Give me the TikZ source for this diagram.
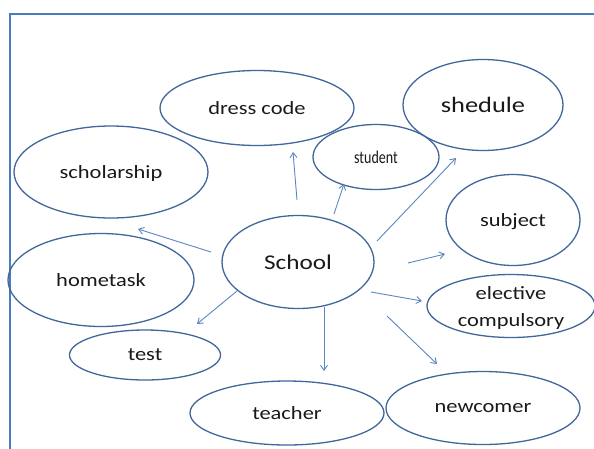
\documentclass[tikz,border=0pt]{standalone}
\usepackage{fontspec}
\setmainfont{Carlito}[FakeStretch=1.2]
\newfontfamily\narrowfont{Carlito}[FakeStretch=0.78]
\usetikzlibrary{shapes.geometric,arrows.meta}
\definecolor{rimblue}{HTML}{41679A}
\definecolor{linkblue}{HTML}{5A86C2}
\definecolor{frameblue}{HTML}{4A7EBB}
\tikzset{
  bub/.style={ellipse, draw=rimblue, line width=1.3pt, inner sep=0pt, font=\fontsize{18.7}{27}\selectfont, text=black!90, align=center, text depth=0pt},
  link/.style={draw=linkblue, line width=0.9pt, -{Straight Barb[length=5pt,width=7pt]}},
}
\begin{document}
\begin{tikzpicture}[x=1pt,y=-1pt]
\useasboundingbox (0,0) rectangle (594,448);
\draw[frameblue, line width=2pt] (9.5,460) -- (9.5,14) -- (600,14);
\node[bub, minimum width=194pt, minimum height=75pt] at (257,108) (dress) {dress code};
\node[bub, minimum width=160pt, minimum height=91pt, font=\fontsize{22}{26}\selectfont] at (483,105) (shedule) {shedule};
\node[bub, minimum width=126pt, minimum height=65pt, fill=white] at (376,157) (student) {\narrowfont\fontsize{18}{20}\selectfont student};
\node[bub, minimum width=194pt, minimum height=92pt] at (111,172) (scholar) {scholarship};
\node[bub, minimum width=134pt, minimum height=91pt] at (513,220) (subject) {subject};
\node[bub, minimum width=152pt, minimum height=93pt, font=\fontsize{21}{25}\selectfont] at (298,262) (school) {School};
\node[bub, minimum width=186pt, minimum height=93pt] at (101,280) (hometask) {hometask};
\node[bub, minimum width=151pt, minimum height=50pt] at (145,355) (test) {test};
\node[bub, minimum width=168pt, minimum height=63pt] at (511,306) (elective) {elective\\compulsory};
\node[bub, minimum width=194pt, minimum height=64pt] at (287,413) (teacher) {teacher};
\node[bub, minimum width=194pt, minimum height=73pt] at (483,408) (newcomer) {newcomer};
% arrow ends
\coordinate (s-dress) at (297,200);    \coordinate (e-dress) at (293,152);
\coordinate (s-student) at (334,214);  \coordinate (e-student) at (344,184);
\coordinate (s-shedule) at (377,241);  \coordinate (e-shedule) at (456,158);
\coordinate (s-scholar) at (211,252);  \coordinate (e-scholar) at (138,229);
\coordinate (s-test) at (237,291);     \coordinate (e-test) at (197,324);
\coordinate (s-teacher) at (324,307);  \coordinate (e-teacher) at (324,371);
\coordinate (s-newcomer) at (387,316); \coordinate (e-newcomer) at (437,364);
\coordinate (s-elective) at (371,292); \coordinate (e-elective) at (422,301);
\coordinate (s-subject) at (408,263);  \coordinate (e-subject) at (445,254);
\draw[link] (s-dress) -- (e-dress);
\draw[link] (s-student) -- (e-student);
\draw[link] (s-shedule) -- (e-shedule);
\draw[link] (s-scholar) -- (e-scholar);
\draw[link] (s-test) -- (e-test);
\draw[link] (s-teacher) -- (e-teacher);
\draw[link] (s-newcomer) -- (e-newcomer);
\draw[link] (s-elective) -- (e-elective);
\draw[link] (s-subject) -- (e-subject);
\end{tikzpicture}
\end{document}
